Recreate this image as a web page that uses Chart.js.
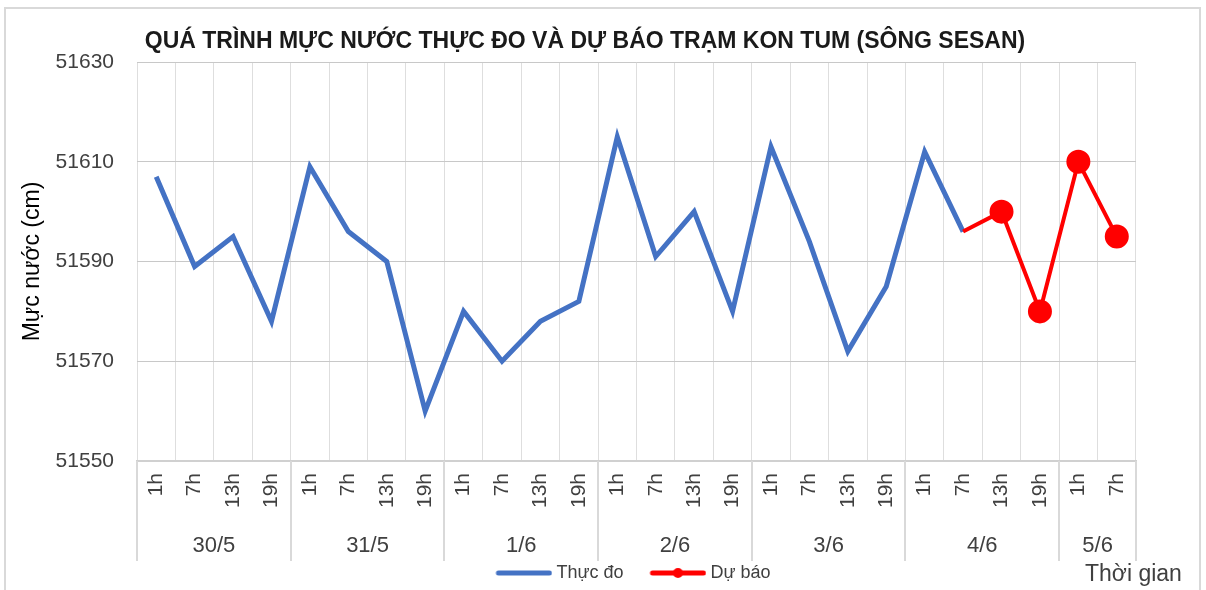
<!DOCTYPE html>
<html><head><meta charset="utf-8">
<script src="https://cdn.jsdelivr.net/npm/chart.js@4/dist/chart.umd.min.js"></script>
<style>html,body{margin:0;padding:0;background:#fff;}</style>
</head><body>
<canvas id="c" width="1206" height="590"></canvas>
<script>
const chartTitle = 'QUÁ TRÌNH MỰC NƯỚC THỰC ĐO VÀ DỰ BÁO TRẠM KON TUM (SÔNG SESAN)';
const yAxisTitle = 'Mực nước (cm)';
const xAxisTitle = 'Thời gian';
const hourLabels = ['1h','7h','13h','19h','1h','7h','13h','19h','1h','7h','13h','19h','1h','7h','13h','19h','1h','7h','13h','19h','1h','7h','13h','19h','1h','7h'];
const dayLabels = ['30/5','31/5','1/6','2/6','3/6','4/6','5/6'];
const daySpans = [4,4,4,4,4,4,2];
const observed = [51607,51589,51595,51578, 51609,51596,51590,51560, 51580,51570,51578,51582, 51615,51591,51600,51580, 51613,51594,51572,51585, 51612,51596,null,null, null,null];
const forecast = [null,null,null,null, null,null,null,null, null,null,null,null, null,null,null,null, null,null,null,null, null,51596,51600,51580, 51610,51595];
const yMin = 51550, yMax = 51630, yStep = 20;

const FONT = "'Liberation Sans', Arial, sans-serif";
const BLUE = '#4472C4', RED = '#FF0000';

function legendIcon(color, marker) {
  const W = 85, H = 22, c = document.createElement('canvas');
  c.width = W; c.height = H;
  const g = c.getContext('2d');
  g.strokeStyle = color; g.lineWidth = 5; g.lineCap = 'round';
  g.beginPath(); g.moveTo(W - 54, H/2); g.lineTo(W - 3, H/2); g.stroke();
  if (marker) { g.fillStyle = color; g.beginPath(); g.arc(W - 28.5, H/2, 5, 0, Math.PI*2); g.fill(); }
  return c;
}

const decor = {
  id: 'decor',
  beforeDraw(chart) {
    const ctx = chart.ctx;
    ctx.save();
    ctx.fillStyle = '#fff'; ctx.fillRect(0, 0, chart.width, chart.height);
    ctx.strokeStyle = '#d9d9d9'; ctx.lineWidth = 2;
    ctx.strokeRect(5, 8, 1195, 620);
    ctx.restore();
  },
  afterDraw(chart) {
    const ctx = chart.ctx, x = chart.scales.x, area = chart.chartArea;
    const half = (x.getPixelForValue(1) - x.getPixelForValue(0)) / 2;
    ctx.save();
    ctx.fillStyle = '#1a1a1a';
    ctx.font = 'bold 23px ' + FONT;
    ctx.textAlign = 'center'; ctx.textBaseline = 'middle';
    ctx.fillText(chartTitle, 585, 42);
    ctx.strokeStyle = '#d9d9d9'; ctx.lineWidth = 2;
    let idx = 0;
    const bounds = [idx];
    daySpans.forEach(s => { idx += s; bounds.push(idx); });
    bounds.forEach(b => {
      const px = Math.round(x.getPixelForValue(b) - half);
      ctx.beginPath(); ctx.moveTo(px, area.bottom); ctx.lineTo(px, area.bottom + 100); ctx.stroke();
    });
    ctx.fillStyle = '#404040';
    ctx.font = '22px ' + FONT;
    dayLabels.forEach((d, i) => {
      const a = x.getPixelForValue(bounds[i]) - half, b = x.getPixelForValue(bounds[i+1]) - half;
      ctx.fillText(d, (a + b) / 2, area.bottom + 85);
    });
    ctx.font = '23px ' + FONT;
    ctx.textAlign = 'left';
    ctx.fillText(xAxisTitle, 1085, 575);
    ctx.restore();
  }
};

new Chart(document.getElementById('c'), {
  type: 'line',
  data: {
    labels: hourLabels,
    datasets: [
      { label: 'Thực đo', data: observed, borderColor: BLUE, backgroundColor: BLUE, borderWidth: 5, pointRadius: 0, tension: 0, order: 2 },
      { label: 'Dự báo', data: forecast, borderColor: RED, backgroundColor: RED, borderWidth: 4,
        pointRadius: forecast.map((v, i) => (v === null || i === 21) ? 0 : 10),
        pointHoverRadius: 10, pointBackgroundColor: RED, pointBorderColor: RED, tension: 0, order: 1 }
    ]
  },
  options: {
    responsive: false, animation: false, devicePixelRatio: 1,
    layout: { padding: { top: 62, left: 0, right: 70, bottom: 5 } },
    plugins: {
      title: { display: false },
      tooltip: { enabled: false },
      legend: {
        position: 'bottom', fullSize: false, maxHeight: 24,
        labels: {
          usePointStyle: true, pointStyleWidth: 75, padding: 3,
          font: { family: FONT, size: 18 }, color: '#404040',
          generateLabels(chart) {
            const n = chart.data.datasets.length;
            return chart.data.datasets.map((ds, i) => ({
              text: ds.label + (i === n - 1 ? '\u00a0\u00a0\u00a0\u00a0\u00a0\u00a0' : ''),
              datasetIndex: i, fillStyle: ds.borderColor, strokeStyle: ds.borderColor,
              lineWidth: 0, hidden: false, fontColor: '#404040',
              pointStyle: legendIcon(ds.borderColor, i === 1)
            }));
          }
        }
      }
    },
    scales: {
      x: {
        type: 'category', offset: true,
        grid: { offset: true, color: '#dedede', lineWidth: 1, drawTicks: false },
        border: { display: true, color: '#d0d0d0', width: 2 },
        ticks: { autoSkip: false, minRotation: 90, maxRotation: 90, padding: 12, color: '#404040', font: { family: FONT, size: 21 } },
        afterFit(s) { s.height = 100; }
      },
      y: {
        min: yMin, max: yMax,
        ticks: { stepSize: yStep, padding: 23, color: '#404040', font: { family: FONT, size: 21 },
          callback: v => String(v) },
        grid: { color: '#c8c8c8', lineWidth: 1, drawTicks: false },
        border: { display: false },
        title: { display: true, text: yAxisTitle, color: '#000', font: { family: FONT, size: 23 }, padding: { top: 19, bottom: 0 } },
        afterFit(s) { s.width = 137; }
      }
    }
  },
  plugins: [decor]
});
</script>
</body></html>
